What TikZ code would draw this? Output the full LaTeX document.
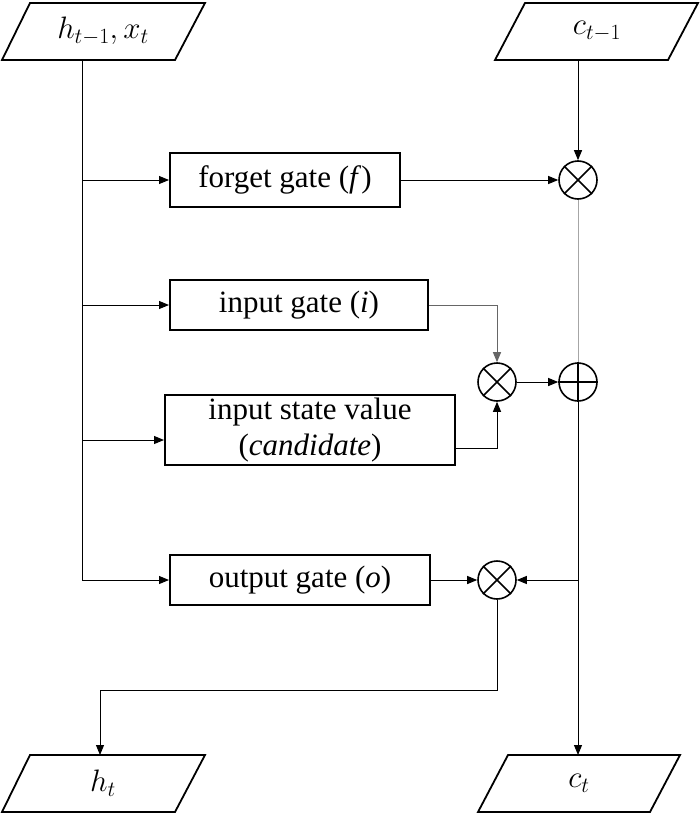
\RequirePackage{fix-cm}
\documentclass[tikz,border=0pt]{standalone}
\usepackage{fontspec}
\setmainfont{Liberation Serif}
\usetikzlibrary{arrows.meta}
\begin{document}
\begin{tikzpicture}[x=1pt,y=-1pt,line width=1pt,
  font=\fontsize{31}{36}\selectfont,
  box/.style={draw,line width=2pt,rectangle,align=center,inner sep=0pt},
  op/.style={draw,circle,line width=1.6pt,minimum size=38pt,inner sep=0pt},
  ar/.style={-{Triangle[length=10pt,width=8pt]}}]
\useasboundingbox (0,0) rectangle (700,816);
\tikzset{pio/.style={line width=1.8pt}}
\draw[pio] (2,60)--(30,3)--(205,3)--(175,60)--cycle;
\node (hx) at (103,31) {$h_{t-1},x_t$};
\coordinate (hxb) at (82,60);
\draw[pio] (495,60)--(525,3)--(698,3)--(668,60)--cycle;
\node (cp) at (597,31) {$c_{t-1}$};
\coordinate (cpb) at (578,60);
\draw[pio] (2,812)--(30,755)--(205,755)--(175,812)--cycle;
\node (h) at (103,783) {$h_t$};
\coordinate (ht) at (100,755);
\draw[pio] (478,812)--(508,755)--(680,755)--(650,812)--cycle;
\node (c) at (579,783) {$c_t$};
\coordinate (ctt) at (578,755);
\node[box,minimum width=230pt,minimum height=54pt] (f) at (285,180) {forget gate (\textit{f})};
\node[box,minimum width=258pt,minimum height=50pt] (i) at (299,305) {input gate (\textit{i})};
\node[box,minimum width=290pt,minimum height=70pt] (g) at (310,430) {input state value\\(\textit{candidate})};
\node[box,minimum width=260pt,minimum height=50pt] (o) at (300,580) {output gate (\textit{o})};
\node[op] (mf) at (578,180) {};
\draw[line width=1.6pt] (mf.north west)--(mf.south east) (mf.north east)--(mf.south west);
\node[op] (pl) at (578,382) {};
\draw[line width=1.6pt] (pl.north)--(pl.south) (pl.west)--(pl.east);
\node[op] (mi) at (497,382) {};
\draw[line width=1.6pt] (mi.north west)--(mi.south east) (mi.north east)--(mi.south west);
\node[op] (mo) at (497,580) {};
\draw[line width=1.6pt] (mo.north west)--(mo.south east) (mo.north east)--(mo.south west);
\draw (hxb) -- (82,580);
\draw[ar] (82,180) -- (f.west);
\draw[ar] (82,305) -- (i.west);
\draw[ar] (82,440) -- (g.west |- 0,440);
\draw[ar] (82,580) -- (o.west);
\draw[ar] (f.east) -- (mf.west);
\draw[ar] (cpb) -- (mf.north);
\draw[gray!70] (mf.south) -- (pl.north);
\draw[ar] (pl.south) -- (ctt);
\draw[ar,gray!80!black] (i.east) -| (mi.north);
\draw[ar] (g.east |- 0,448) -| (mi.south);
\draw[ar] (mi.east) -- (pl.west);
\draw[ar] (578,580) -- (mo.east);
\draw[ar] (o.east) -- (mo.west);
\draw[ar] (mo.south) -- (497,690) -- (100,690) -- (ht);
\end{tikzpicture}
\end{document}
